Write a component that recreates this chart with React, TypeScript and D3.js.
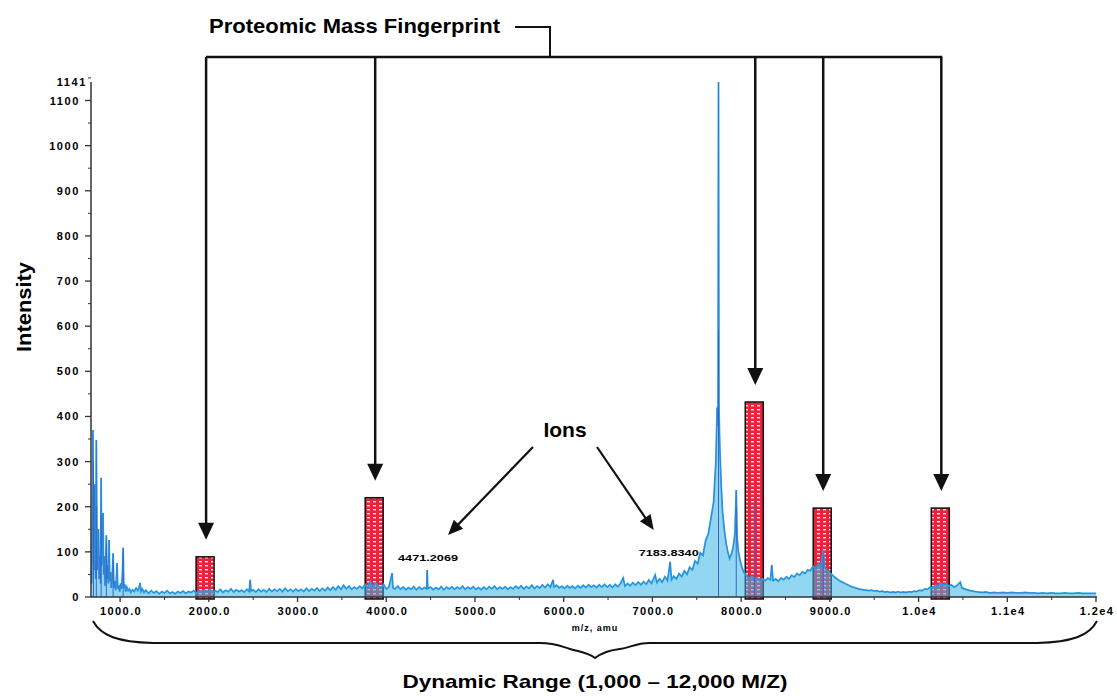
import React, { useRef, useEffect } from "react";
import * as d3 from "d3";

// m/z, intensity pairs
const spectrum: [number, number][] = [
  [680, 30], [688, 180], [694, 370], [700, 90], [706, 60], [712, 250], [718, 120], [725, 40], [732, 348], [740, 110],
  [748, 60], [756, 150], [764, 40], [772, 90], [780, 30], [786, 264], [792, 70], [800, 120], [808, 186], [815, 50],
  [822, 90], [830, 25], [838, 60], [845, 137], [852, 40], [860, 70], [868, 30], [876, 126], [884, 35], [892, 55],
  [900, 20], [910, 40], [921, 97], [930, 20], [940, 35], [950, 15], [958, 40], [966, 75], [974, 18], [985, 25],
  [995, 12], [1005, 30], [1015, 18], [1025, 45], [1034, 109], [1042, 20], [1052, 28], [1062, 12], [1075, 22], [1090, 14],
  [1105, 18], [1120, 10], [1140, 16], [1160, 12], [1180, 20], [1200, 14], [1215, 22], [1225, 31], [1235, 12], [1250, 18],
  [1270, 10], [1290, 15], [1320, 8], [1350, 14], [1380, 9], [1410, 13], [1440, 7], [1470, 12], [1500, 9], [1530, 14],
  [1560, 8], [1590, 11], [1620, 7], [1650, 12], [1680, 9], [1710, 13], [1740, 8], [1770, 12], [1800, 10], [1830, 14],
  [1860, 9], [1890, 13], [1920, 10], [1950, 15], [1980, 11], [2010, 16], [2040, 10], [2070, 14], [2100, 11], [2130, 17],
  [2160, 10], [2190, 15], [2220, 12], [2250, 18], [2280, 11], [2310, 16], [2340, 12], [2370, 15], [2400, 11], [2430, 17],
  [2455, 12], [2466, 38], [2476, 13], [2500, 16], [2530, 11], [2560, 17], [2590, 12], [2620, 16], [2650, 11], [2680, 18],
  [2710, 12], [2740, 17], [2770, 13], [2800, 18], [2830, 12], [2860, 19], [2890, 13], [2920, 17], [2950, 12], [2980, 18],
  [3010, 13], [3040, 17], [3070, 12], [3100, 19], [3130, 13], [3160, 18], [3190, 14], [3220, 20], [3250, 13], [3280, 19],
  [3310, 14], [3340, 21], [3370, 15], [3400, 22], [3430, 16], [3460, 24], [3490, 17], [3520, 26], [3550, 18], [3580, 24],
  [3610, 17], [3640, 22], [3670, 18], [3700, 24], [3730, 19], [3760, 28], [3790, 20], [3820, 34], [3850, 22], [3880, 30],
  [3910, 24], [3940, 20], [3970, 28], [4000, 18], [4030, 22], [4066, 53], [4075, 20], [4100, 18], [4130, 24], [4160, 17],
  [4190, 22], [4220, 16], [4250, 21], [4280, 17], [4310, 23], [4340, 16], [4370, 22], [4400, 17], [4430, 21], [4455, 18],
  [4461, 60], [4468, 19], [4500, 22], [4530, 16], [4560, 21], [4590, 17], [4620, 23], [4650, 16], [4680, 22], [4710, 18],
  [4740, 23], [4770, 17], [4800, 22], [4830, 18], [4860, 24], [4890, 17], [4920, 22], [4950, 18], [4980, 23], [5010, 17],
  [5040, 21], [5070, 16], [5100, 22], [5130, 17], [5160, 23], [5190, 18], [5220, 24], [5250, 17], [5280, 22], [5310, 18],
  [5340, 23], [5370, 17], [5400, 22], [5430, 18], [5460, 24], [5490, 19], [5520, 25], [5550, 18], [5580, 23], [5610, 19],
  [5640, 26], [5670, 19], [5700, 24], [5730, 20], [5760, 27], [5790, 21], [5820, 28], [5850, 22], [5881, 38], [5890, 22],
  [5920, 26], [5950, 20], [5980, 24], [6010, 19], [6040, 25], [6070, 20], [6100, 24], [6130, 19], [6160, 25], [6190, 20],
  [6220, 26], [6250, 21], [6280, 27], [6310, 22], [6340, 26], [6370, 21], [6400, 27], [6430, 22], [6460, 28], [6490, 22],
  [6520, 27], [6550, 21], [6580, 28], [6610, 23], [6640, 30], [6671, 42], [6690, 24], [6720, 30], [6750, 25], [6780, 32],
  [6810, 26], [6840, 33], [6870, 27], [6900, 34], [6930, 28], [6960, 38], [6990, 30], [7031, 49], [7050, 32], [7080, 40],
  [7110, 33], [7140, 45], [7170, 36], [7200, 78], [7215, 38], [7240, 46], [7270, 40], [7300, 52], [7330, 45], [7360, 58],
  [7390, 50], [7420, 66], [7450, 60], [7480, 80], [7510, 74], [7540, 98], [7570, 92], [7600, 125], [7630, 140], [7660, 175],
  [7690, 210], [7715, 300], [7730, 420], [7740, 380], [7745, 1141], [7750, 420], [7760, 330], [7775, 250], [7790, 190], [7810, 150],
  [7830, 120], [7850, 100], [7870, 85], [7890, 95], [7910, 110], [7930, 140], [7945, 237], [7955, 130], [7970, 100], [7990, 80],
  [8010, 65], [8030, 55], [8060, 48], [8090, 40], [8120, 45], [8150, 38], [8180, 42], [8210, 35], [8240, 40], [8270, 36],
  [8300, 42], [8330, 38], [8346, 71], [8360, 36], [8390, 40], [8420, 35], [8450, 42], [8480, 38], [8510, 45], [8540, 40],
  [8570, 48], [8600, 44], [8630, 52], [8660, 48], [8690, 56], [8720, 52], [8750, 60], [8780, 58], [8810, 68], [8840, 62],
  [8870, 72], [8900, 66], [8926, 104], [8940, 68], [8960, 60], [8990, 55], [9020, 50], [9050, 45], [9080, 40], [9110, 36],
  [9140, 33], [9170, 30], [9200, 27], [9230, 24], [9260, 22], [9290, 20], [9320, 18], [9350, 17], [9380, 16], [9410, 15],
  [9440, 14], [9470, 15], [9500, 13], [9530, 14], [9560, 12], [9590, 13], [9620, 11], [9650, 12], [9680, 10], [9710, 11],
  [9740, 10], [9770, 12], [9800, 10], [9830, 11], [9860, 10], [9890, 12], [9920, 11], [9950, 13], [9980, 12], [10010, 15],
  [10040, 14], [10070, 18], [10100, 17], [10130, 22], [10160, 20], [10190, 26], [10220, 24], [10250, 30], [10280, 26], [10310, 28],
  [10340, 24], [10370, 27], [10400, 22], [10430, 25], [10470, 33], [10490, 20], [10520, 18], [10550, 16], [10580, 14], [10610, 13],
  [10640, 12], [10680, 11], [10720, 10], [10760, 11], [10800, 9], [10850, 10], [10900, 9], [10950, 10], [11000, 9], [11050, 10],
  [11100, 9], [11150, 9], [11200, 10], [11250, 9], [11300, 9], [11350, 8], [11400, 9], [11450, 8], [11500, 9], [11550, 8],
  [11600, 8], [11650, 9], [11700, 8], [11750, 8], [11800, 9], [11850, 8], [11900, 8], [11950, 8], [12000, 8],
];

// darker blue sticks showing under the main trace
const darkSticks: [number, number][] = [
  [700, 300], [732, 200], [786, 180], [845, 120], [921, 80], [1034, 100], [7745, 590], [7945, 200], [8148, 210], [8926, 90],
];

// highlighted fingerprint masses (centre m/z, box height)
const fingerprintMz = [1958, 3864, 8148, 8914, 10245];
const fingerprintHeight = [89, 220, 432, 197, 197];

const ionMz = [4471.2069, 7183.834];
const ionLabels = ["4471.2069", "7183.8340"];

const xTickValues = [1000, 2000, 3000, 4000, 5000, 6000, 7000, 8000, 9000, 10000, 11000, 12000];
const xTickLabels = ["1000.0", "2000.0", "3000.0", "4000.0", "5000.0", "6000.0", "7000.0", "8000.0", "9000.0", "1.0e4", "1.1e4", "1.2e4"];
const yTickValues = [0, 100, 200, 300, 400, 500, 600, 700, 800, 900, 1000, 1100];

const FONT = "'Liberation Sans', Arial, sans-serif";

const triangle = (x1: number, y1: number, x2: number, y2: number, len: number, half: number) => {
  const a = Math.atan2(y2 - y1, x2 - x1);
  const bx = x2 - len * Math.cos(a);
  const by = y2 - len * Math.sin(a);
  const px = -Math.sin(a) * half;
  const py = Math.cos(a) * half;
  return `M${x2},${y2}L${bx + px},${by + py}L${bx - px},${by - py}Z`;
};

const Spectrum = () => {
  const ref = useRef<SVGSVGElement>(null);

  useEffect(() => {
    const svg = d3.select(ref.current);
    svg.selectAll("*").remove();

    const x = d3.scaleLinear().domain([672, 12000]).range([91, 1096]);
    const y = d3.scaleLinear().domain([0, 1141]).range([597, 82]);

    const defs = svg.append("defs");
    const pat = defs
      .append("pattern")
      .attr("id", "redgrid")
      .attr("patternUnits", "userSpaceOnUse")
      .attr("width", 6)
      .attr("height", 4);
    pat.append("rect").attr("width", 6).attr("height", 4).attr("fill", "#e8243c");
    pat.append("rect").attr("x", 1).attr("y", 1).attr("width", 3).attr("height", 1.4).attr("fill", "#fff").attr("opacity", 0.85);

    // fingerprint boxes
    svg
      .append("g")
      .selectAll("rect")
      .data(fingerprintMz)
      .enter()
      .append("rect")
      .attr("x", (d) => x(d) - 9)
      .attr("y", (d, i) => y(fingerprintHeight[i]))
      .attr("width", 18)
      .attr("height", (d, i) => y(0) - y(fingerprintHeight[i]) + 2)
      .attr("fill", "url(#redgrid)")
      .attr("stroke", "#111")
      .attr("stroke-width", 1.5);

    // spectrum
    const line = d3
      .line<[number, number]>()
      .x((d) => x(d[0]))
      .y((d) => y(d[1]));
    const area = d3
      .area<[number, number]>()
      .x((d) => x(d[0]))
      .y0(y(0))
      .y1((d) => y(d[1]));

    svg
      .append("path")
      .datum(spectrum)
      .attr("d", area)
      .attr("fill", "#3bb4e8")
      .attr("opacity", 0.55);

    svg
      .append("path")
      .datum(spectrum)
      .attr("d", line)
      .attr("fill", "none")
      .attr("stroke", "#2aaae4")
      .attr("stroke-width", 1.8);

    svg
      .append("g")
      .selectAll("line")
      .data(darkSticks)
      .enter()
      .append("line")
      .attr("x1", (d) => x(d[0]))
      .attr("x2", (d) => x(d[0]))
      .attr("y1", y(0))
      .attr("y2", (d) => y(d[1]))
      .attr("stroke", "#3a63c8")
      .attr("stroke-width", 1);

    svg
      .append("path")
      .datum(spectrum)
      .attr("d", line)
      .attr("fill", "none")
      .attr("stroke", "#3a63c8")
      .attr("stroke-width", 0.6)
      .attr("opacity", 0.8);

    // axes
    const axisColor = "#333";
    const yAxis = svg.append("g");
    yAxis.append("line").attr("x1", 91).attr("x2", 91).attr("y1", y(1141)).attr("y2", y(0)).attr("stroke", axisColor).attr("stroke-width", 1.5);
    yAxis
      .selectAll("line.major")
      .data(yTickValues)
      .enter()
      .append("line")
      .attr("x1", 85)
      .attr("x2", 91)
      .attr("y1", (d) => y(d))
      .attr("y2", (d) => y(d))
      .attr("stroke", axisColor)
      .attr("stroke-width", 1.3);
    yAxis
      .selectAll("line.minor")
      .data(yTickValues.map((d) => d + 50))
      .enter()
      .append("line")
      .attr("x1", 88)
      .attr("x2", 91)
      .attr("y1", (d) => y(d))
      .attr("y2", (d) => y(d))
      .attr("stroke", axisColor);
    yAxis
      .selectAll("text")
      .data(yTickValues)
      .enter()
      .append("text")
      .attr("x", 80)
      .attr("y", (d) => y(d) + 4)
      .attr("text-anchor", "end")
      .style("font-family", FONT)
      .style("font-weight", "bold")
      .style("font-size", "11px")
      .style("letter-spacing", "1.6px")
      .text((d) => String(d));
    yAxis
      .append("text")
      .attr("x", 87)
      .attr("y", y(1141) + 4)
      .attr("text-anchor", "end")
      .style("font-family", FONT)
      .style("font-weight", "bold")
      .style("font-size", "11px")
      .style("letter-spacing", "1.6px")
      .text("1141");

    const xAxis = svg.append("g");
    xAxis.append("line").attr("x1", 91).attr("x2", 1097).attr("y1", y(0)).attr("y2", y(0)).attr("stroke", axisColor).attr("stroke-width", 1.5);
    xAxis
      .selectAll("line.major")
      .data(xTickValues)
      .enter()
      .append("line")
      .attr("x1", (d) => x(d))
      .attr("x2", (d) => x(d))
      .attr("y1", y(0))
      .attr("y2", y(0) + 5)
      .attr("stroke", axisColor)
      .attr("stroke-width", 1.3);
    xAxis
      .selectAll("line.minor")
      .data(xTickValues.slice(0, -1).map((d) => d + 500))
      .enter()
      .append("line")
      .attr("x1", (d) => x(d))
      .attr("x2", (d) => x(d))
      .attr("y1", y(0))
      .attr("y2", y(0) + 3)
      .attr("stroke", axisColor);
    xAxis
      .selectAll("text")
      .data(xTickValues)
      .enter()
      .append("text")
      .attr("x", (d) => x(d) + 1)
      .attr("y", 615)
      .attr("text-anchor", "middle")
      .style("font-family", FONT)
      .style("font-weight", "bold")
      .style("font-size", "11px")
      .style("letter-spacing", "1.4px")
      .text((d, i) => xTickLabels[i]);

    svg
      .append("text")
      .attr("x", 595)
      .attr("y", 631)
      .attr("text-anchor", "middle")
      .style("font-family", FONT)
      .style("font-weight", "bold")
      .style("font-size", "9px")
      .style("letter-spacing", "1px")
      .text("m/z, amu");

    svg
      .append("text")
      .attr("transform", "translate(31,307) rotate(-90)")
      .attr("text-anchor", "middle")
      .attr("textLength", 90)
      .attr("lengthAdjust", "spacingAndGlyphs")
      .style("font-family", FONT)
      .style("font-weight", "bold")
      .style("font-size", "20px")
      .text("Intensity");

    // ion labels
    svg
      .append("g")
      .selectAll("text")
      .data(ionMz)
      .enter()
      .append("text")
      .attr("x", (d) => x(d))
      .attr("y", (d, i) => (i === 0 ? 561 : 556))
      .attr("text-anchor", "middle")
      .attr("textLength", 60)
      .attr("lengthAdjust", "spacingAndGlyphs")
      .style("font-family", FONT)
      .style("font-weight", "bold")
      .style("font-size", "9px")
      .text((d, i) => ionLabels[i]);

    // fingerprint title + arrows
    const ann = svg.append("g");
    ann
      .append("text")
      .attr("x", 209)
      .attr("y", 33)
      .attr("textLength", 291)
      .attr("lengthAdjust", "spacingAndGlyphs")
      .style("font-family", FONT)
      .style("font-weight", "bold")
      .style("font-size", "21px")
      .text("Proteomic Mass Fingerprint");

    const topY = 57;
    ann
      .append("path")
      .attr("d", `M515,27H550V${topY}`)
      .attr("fill", "none")
      .attr("stroke", "#111")
      .attr("stroke-width", 2);
    ann
      .append("line")
      .attr("x1", x(fingerprintMz[0]) + 1)
      .attr("x2", x(fingerprintMz[fingerprintMz.length - 1]) + 2)
      .attr("y1", topY)
      .attr("y2", topY)
      .attr("stroke", "#111")
      .attr("stroke-width", 2.5);

    fingerprintMz.forEach((mz, i) => {
      const cx = x(mz) + 1;
      const tip = y(fingerprintHeight[i]) - 17;
      ann
        .append("line")
        .attr("x1", cx)
        .attr("x2", cx)
        .attr("y1", topY)
        .attr("y2", tip - 14)
        .attr("stroke", "#111")
        .attr("stroke-width", 2.5);
      ann.append("path").attr("d", triangle(cx, topY, cx, tip, 17, 8)).attr("fill", "#111");
    });

    // ions
    ann
      .append("text")
      .attr("x", 565)
      .attr("y", 437)
      .attr("text-anchor", "middle")
      .style("font-family", FONT)
      .style("font-weight", "bold")
      .style("font-size", "21px")
      .text("Ions");

    const ionArrows = [
      [533, 447, x(ionMz[0]) + 20, 535],
      [597, 447, x(ionMz[1]) - 15, 530],
    ];
    ionArrows.forEach(([x1, y1, x2, y2]) => {
      const a = Math.atan2(y2 - y1, x2 - x1);
      ann
        .append("line")
        .attr("x1", x1)
        .attr("y1", y1)
        .attr("x2", x2 - 12 * Math.cos(a))
        .attr("y2", y2 - 12 * Math.sin(a))
        .attr("stroke", "#111")
        .attr("stroke-width", 2.2);
      ann.append("path").attr("d", triangle(x1, y1, x2, y2, 15, 6.5)).attr("fill", "#111");
    });

    // dynamic range brace
    const bl = 93;
    const br = 1097;
    const mid = (bl + br) / 2;
    ann
      .append("path")
      .attr(
        "d",
        `M${bl},621 C${bl + 8},636 ${bl + 25},642 ${bl + 60},643 H${mid - 55} ` +
          `C${mid - 40},643 ${mid - 35},646 ${mid - 25},649 S${mid - 8},652 ${mid},658 ` +
          `C${mid + 8},652 ${mid + 15},650 ${mid + 25},649 S${mid + 40},643 ${mid + 55},643 ` +
          `H${br - 60} C${br - 25},642 ${br - 8},636 ${br},621`
      )
      .attr("fill", "none")
      .attr("stroke", "#111")
      .attr("stroke-width", 2);

    ann
      .append("text")
      .attr("x", mid)
      .attr("y", 688)
      .attr("text-anchor", "middle")
      .attr("textLength", 385)
      .attr("lengthAdjust", "spacingAndGlyphs")
      .style("font-family", FONT)
      .style("font-weight", "bold")
      .style("font-size", "19px")
      .text("Dynamic Range (1,000 \u2013 12,000 M/Z)");

    return () => {
      svg.selectAll("*").remove();
    };
  }, []);

  return (
    <svg
      ref={ref}
      width={1117}
      height={700}
      style={{ position: "absolute", left: 0, top: 0, background: "#fff" }}
    />
  );
};

export default function App() {
  return <Spectrum />;
}
